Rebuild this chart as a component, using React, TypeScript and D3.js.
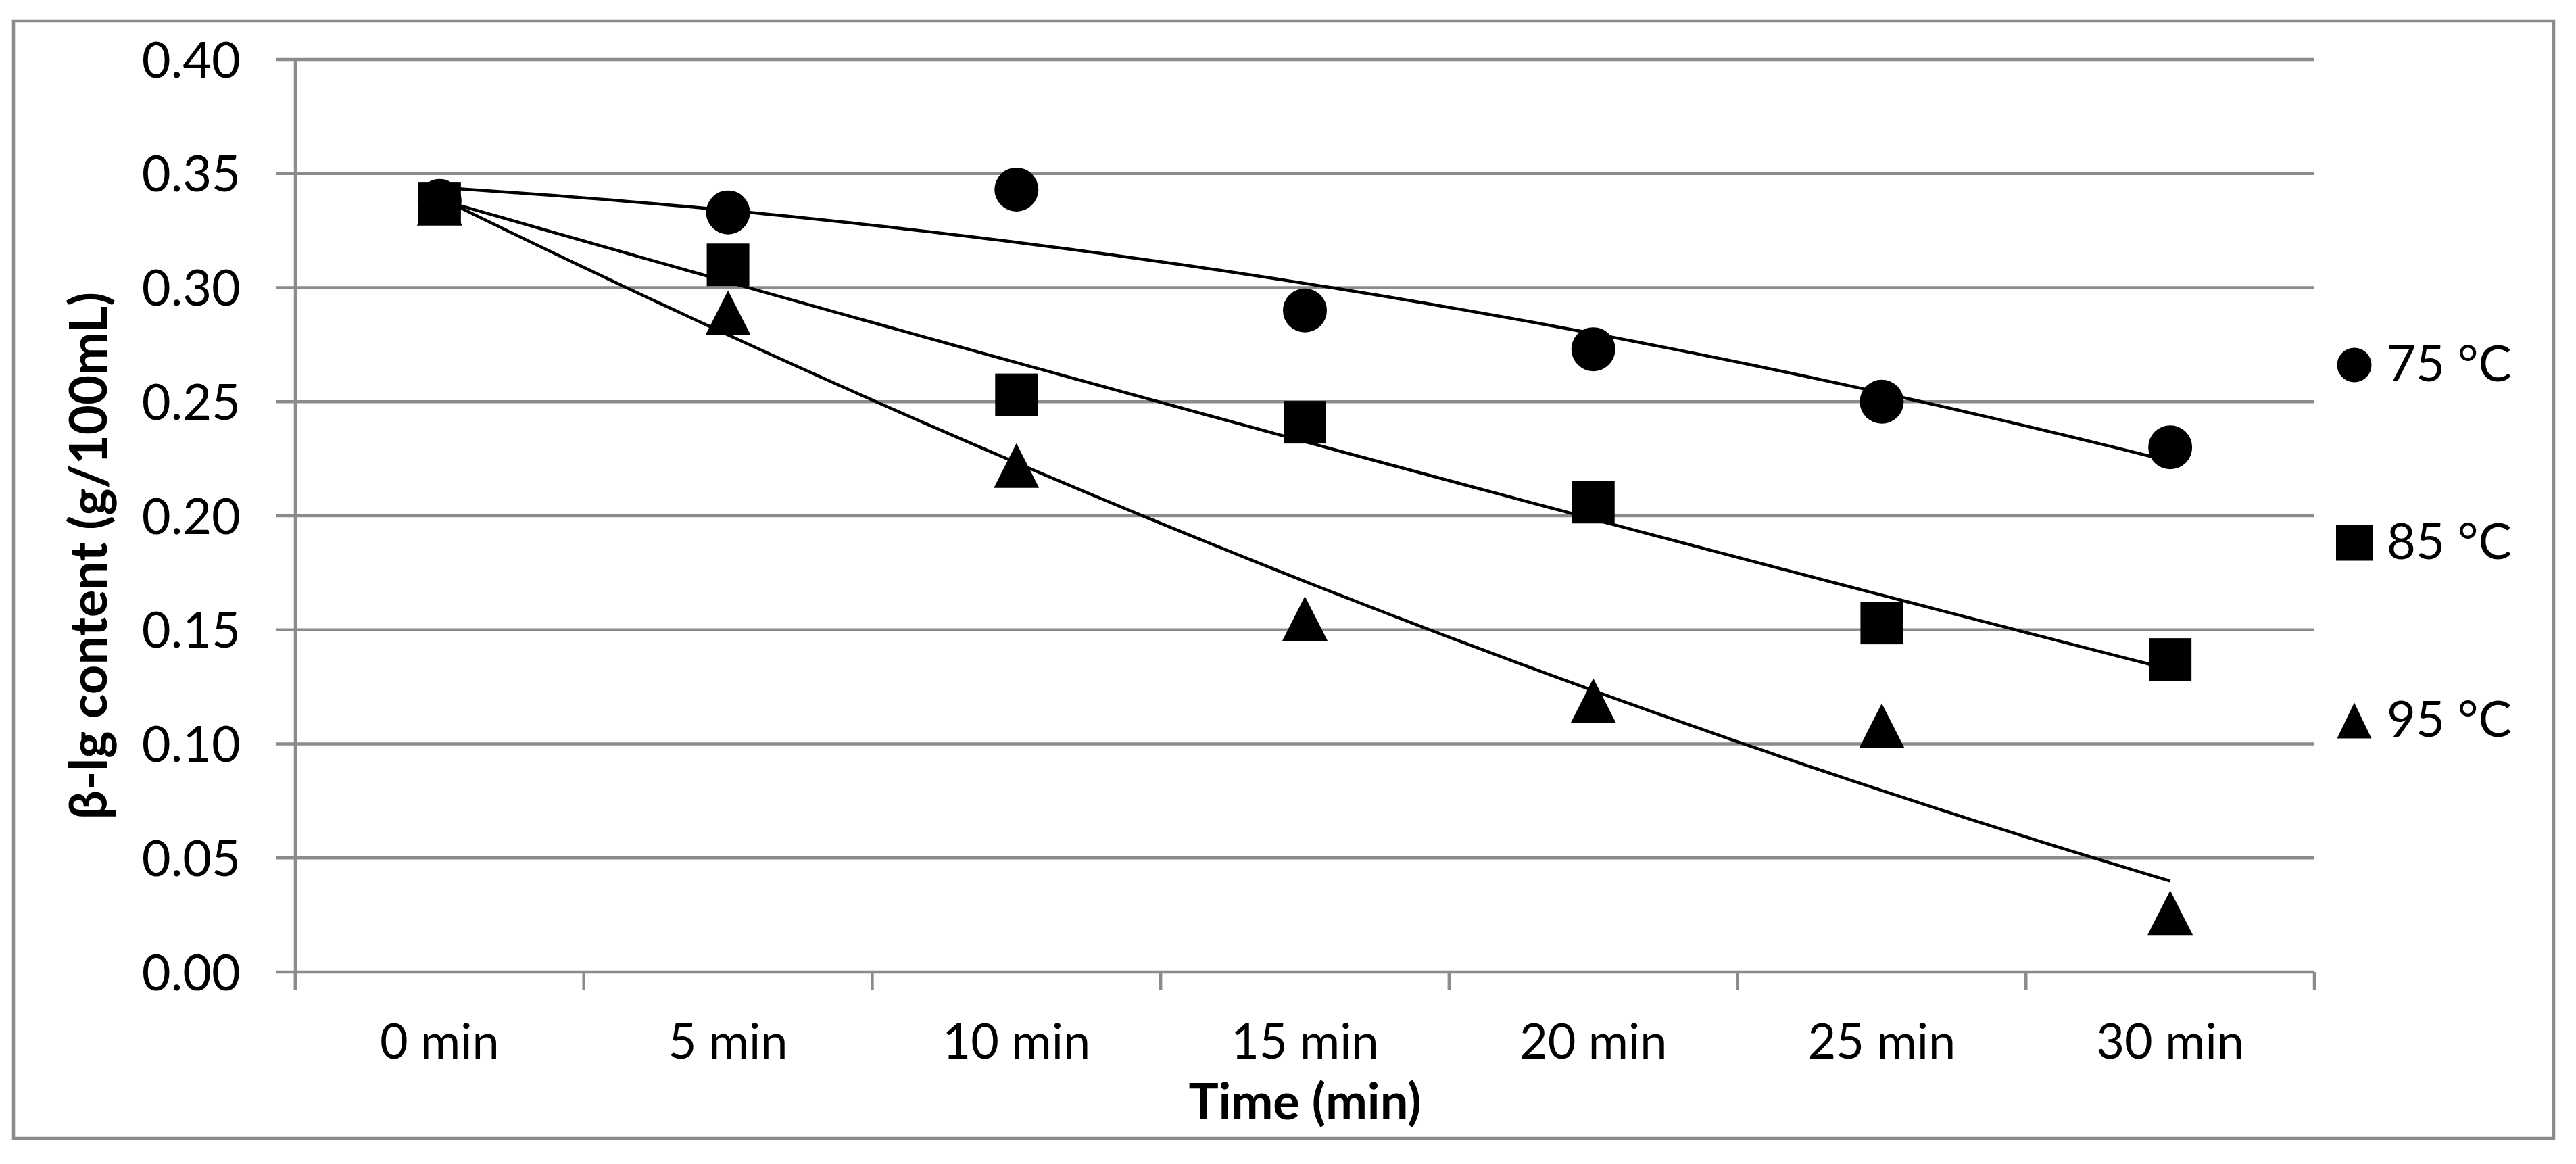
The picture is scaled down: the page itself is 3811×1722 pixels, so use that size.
import React, {useEffect, useRef} from 'react';
import * as d3 from 'd3';

const categories = ['0 min', '5 min', '10 min', '15 min', '20 min', '25 min', '30 min'];
const series75 = [0.338, 0.333, 0.343, 0.290, 0.273, 0.250, 0.230];
const series85 = [0.337, 0.310, 0.253, 0.241, 0.206, 0.153, 0.137];
const series95 = [0.337, 0.289, 0.222, 0.155, 0.119, 0.108, 0.026];
const seriesNames = ['75 °C', '85 °C', '95 °C'];
const yTicks = [0, 0.05, 0.1, 0.15, 0.2, 0.25, 0.3, 0.35, 0.4];

const W = 3811, H = 1722;
const GRID = '#8b8b8b';
const FONT = 'Lato, "Open Sans", sans-serif';

// least squares, order 2 (like an Excel polynomial trendline)
function quadFit(ys: number[]) {
  const xs = ys.map((_, i) => i + 1);
  let s = [0, 0, 0, 0, 0], t = [0, 0, 0];
  xs.forEach((x, i) => {
    for (let k = 0; k < 5; k++) s[k] += Math.pow(x, k);
    for (let k = 0; k < 3; k++) t[k] += Math.pow(x, k) * ys[i];
  });
  const m = [[s[0], s[1], s[2], t[0]], [s[1], s[2], s[3], t[1]], [s[2], s[3], s[4], t[2]]];
  for (let c = 0; c < 3; c++) {
    for (let r = c + 1; r < 3; r++) {
      const f = m[r][c] / m[c][c];
      for (let k = c; k < 4; k++) m[r][k] -= f * m[c][k];
    }
  }
  const a = [0, 0, 0];
  for (let r = 2; r >= 0; r--) {
    let v = m[r][3];
    for (let k = r + 1; k < 3; k++) v -= m[r][k] * a[k];
    a[r] = v / m[r][r];
  }
  return (x: number) => a[0] + a[1] * x + a[2] * x * x;
}

function triPath(w: number, h: number) {
  return `M0,${-h / 2}L${w / 2},${h / 2}L${-w / 2},${h / 2}Z`;
}

const App: React.FC = () => {
  const ref = useRef<SVGSVGElement>(null);

  useEffect(() => {
    const svg = d3.select(ref.current);
    svg.selectAll('*').remove();

    const left = 437, right = 3424, top = 88, bottom = 1438;

    const x = d3.scaleBand().domain(categories).range([left, right]);
    const y = d3.scaleLinear().domain([0, 0.4]).range([bottom, top]);
    const xi = d3.scaleLinear().domain([1, 7])
      .range([x(categories[0])! + x.bandwidth() / 2, x(categories[6])! + x.bandwidth() / 2]);

    // outer frame
    svg.append('rect')
      .attr('x', 20).attr('y', 31).attr('width', 3758).attr('height', 1653)
      .attr('fill', 'white').attr('stroke', GRID).attr('stroke-width', 4.5);

    // gridlines + y ticks
    svg.append('g').selectAll('line').data(yTicks).enter().append('line')
      .attr('x1', left - 29).attr('x2', right)
      .attr('y1', d => y(d)).attr('y2', d => y(d))
      .attr('stroke', GRID).attr('stroke-width', 4.5);

    svg.append('g').selectAll('text').data(yTicks).enter().append('text')
      .attr('x', 356).attr('y', d => y(d)).attr('dy', '0.36em')
      .attr('text-anchor', 'end')
      .attr('font-family', FONT).attr('font-size', 74)
      .text(d => d.toFixed(2));

    // y axis line
    svg.append('line')
      .attr('x1', left).attr('x2', left).attr('y1', top).attr('y2', bottom + 27)
      .attr('stroke', GRID).attr('stroke-width', 4.5);

    // x ticks at band edges
    const edges = categories.map(c => x(c)!).concat([right]);
    svg.append('g').selectAll('line').data(edges).enter().append('line')
      .attr('x1', d => d).attr('x2', d => d)
      .attr('y1', bottom).attr('y2', bottom + 27)
      .attr('stroke', GRID).attr('stroke-width', 4.5);

    svg.append('g').selectAll('text').data(categories).enter().append('text')
      .attr('x', d => x(d)! + x.bandwidth() / 2).attr('y', 1566)
      .attr('text-anchor', 'middle')
      .attr('font-family', FONT).attr('font-size', 72)
      .text(d => d);

    // axis titles
    svg.append('text')
      .attr('x', (left + right) / 2).attr('y', 1656)
      .attr('text-anchor', 'middle')
      .attr('font-family', FONT).attr('font-size', 74).attr('font-weight', 'bold')
      .text('Time (min)');

    svg.append('text')
      .attr('transform', 'translate(158,822) rotate(-90)')
      .attr('text-anchor', 'middle')
      .attr('font-family', FONT).attr('font-size', 76).attr('font-weight', 'bold')
      .text('β-lg content (g/100mL)');

    const allSeries = [series75, series85, series95];

    // trendlines
    allSeries.forEach(s => {
      const f = quadFit(s);
      const pts = d3.range(1, 7.001, 0.05);
      svg.append('path')
        .attr('d', d3.line<number>().x(d => xi(d)).y(d => y(f(d)))(pts))
        .attr('fill', 'none').attr('stroke', 'black').attr('stroke-width', 4.5);
    });

    // markers
    const cx = (i: number) => x(categories[i])! + x.bandwidth() / 2;
    svg.append('g').selectAll('circle').data(series75).enter().append('circle')
      .attr('cx', (_, i) => cx(i)).attr('cy', d => y(d)).attr('r', 32.5).attr('fill', 'black');
    svg.append('g').selectAll('rect').data(series85).enter().append('rect')
      .attr('x', (_, i) => cx(i) - 31.5).attr('y', d => y(d) - 31.5)
      .attr('width', 63).attr('height', 63).attr('fill', 'black');
    svg.append('g').selectAll('path').data(series95).enter().append('path')
      .attr('transform', (d, i) => `translate(${cx(i)},${y(d)})`)
      .attr('d', triPath(67, 66)).attr('fill', 'black');

    // legend
    const legY = [540, 803, 1066];
    const lg = svg.append('g');
    lg.append('circle').attr('cx', 3483).attr('cy', legY[0]).attr('r', 25.5).attr('fill', 'black');
    lg.append('rect').attr('x', 3456).attr('y', legY[1] - 26.5).attr('width', 54).attr('height', 53).attr('fill', 'black');
    lg.append('path').attr('transform', `translate(3483,${legY[2]})`).attr('d', triPath(51, 53)).attr('fill', 'black');
    lg.selectAll('text').data(seriesNames).enter().append('text')
      .attr('x', 3531).attr('y', (_, i) => legY[i] + 24)
      .attr('font-family', FONT).attr('font-size', 74)
      .text(d => d);
  }, []);

  return (
    <svg ref={ref} width={W} height={H}
         style={{position: 'absolute', left: 0, top: 0, background: 'white'}}/>
  );
};

export default App;
